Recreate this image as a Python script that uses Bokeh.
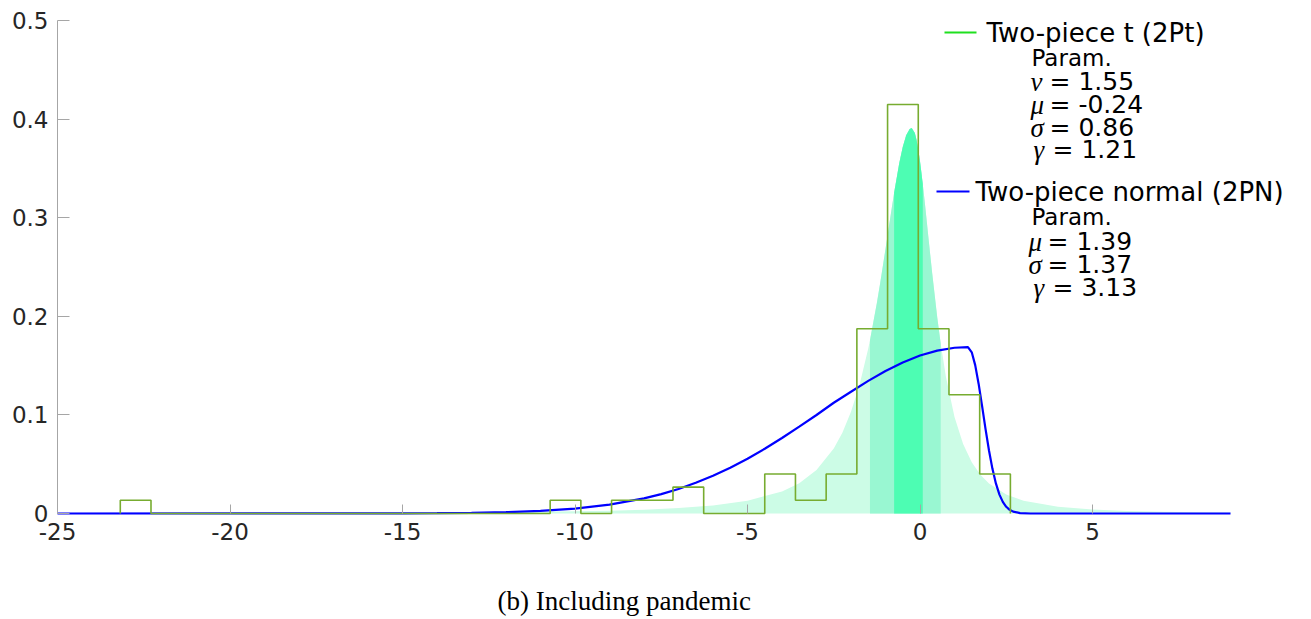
import numpy as np
from bokeh.plotting import figure
from bokeh.models import Range1d, FixedTicker
from bokeh.core.properties import value
from bokeh.embed import file_html
from bokeh.resources import INLINE

# ---------------- data ----------------
# histogram (density) : bin edges and heights
HIST_EDGES = [-23.18, -22.29, -21.40, -20.51, -19.62, -18.73, -17.84, -16.95, -16.06,
              -15.17, -14.28, -13.39, -12.50, -11.61, -10.72, -9.83, -8.94, -8.05,
              -7.16, -6.27, -5.39, -4.50, -3.61, -2.72, -1.83, -0.94, -0.05, 0.84,
              1.73, 2.62]
HIST_HEIGHTS = [0.0134, 0, 0, 0, 0, 0, 0, 0, 0, 0, 0, 0, 0, 0,
                0.0134, 0, 0.0134, 0.0134, 0.0268, 0, 0, 0.0401, 0.0134, 0.0401,
                0.1873, 0.4148, 0.1873, 0.1204, 0.0401]

# two-piece t (2Pt) density (shaded)
PT_X = [-25, -20, -15, -13, -11, -10, -9, -8, -7, -6, -5, -4, -3.5, -3, -2.5, -2.25,
        -2, -1.75, -1.5, -1.45, -1.25, -1.15, -1.0, -0.9, -0.75, -0.6, -0.5, -0.4,
        -0.3, -0.24, -0.15, -0.1, -0.05, 0, 0.08, 0.15, 0.25, 0.35, 0.5, 0.6, 0.75,
        1.0, 1.25, 1.5, 1.75, 2, 2.5, 3, 4, 5, 6, 7, 8, 9]
PT_Y = [0.0002, 0.0004, 0.0008, 0.0011, 0.0017, 0.0022, 0.0029, 0.0039, 0.0055, 0.0082,
        0.0129, 0.0224, 0.0308, 0.0441, 0.0659, 0.0819, 0.1031, 0.1309, 0.1673, 0.1758,
        0.2134, 0.2345, 0.2682, 0.2913, 0.3254, 0.3556, 0.3718, 0.3835, 0.3899, 0.3910,
        0.3859, 0.3789, 0.3691, 0.3572, 0.3343, 0.3118, 0.2780, 0.2446, 0.1989, 0.1724,
        0.1389, 0.0978, 0.0704, 0.0520, 0.0393, 0.0304, 0.0193, 0.0130, 0.0068, 0.0041,
        0.0026, 0.0018, 0.0013, 0.0010]
PT_BAND_OUTER = [-1.45, 0.6]
PT_BAND_INNER = [-0.75, 0.08]

# two-piece normal (2PN) density (line)
PN_X = [-25, -15, -14, -13, -12, -11, -10, -9, -8, -7.5, -7, -6.5, -6, -5.5, -5, -4.5,
        -4, -3.5, -3, -2.5, -2, -1.5, -1, -0.5, 0, 0.5, 1, 1.39, 1.5, 1.6, 1.7, 1.8,
        1.9, 2.0, 2.1, 2.2, 2.3, 2.4, 2.5, 2.6, 2.7, 2.9, 3.2, 9]
PN_Y = [0, 0.0001, 0.0003, 0.0006, 0.0013, 0.0026, 0.0050, 0.0090, 0.0154, 0.0197,
        0.0249, 0.0311, 0.0382, 0.0465, 0.0556, 0.0657, 0.0766, 0.0881, 0.0999, 0.1123,
        0.1235, 0.1345, 0.1445, 0.1532, 0.1602, 0.1652, 0.1681, 0.1688, 0.1635, 0.1505,
        0.1314, 0.1089, 0.0856, 0.0639, 0.0453, 0.0305, 0.0194, 0.0118, 0.0068, 0.0037,
        0.0019, 0.0004, 0.0, 0.0]

X_TICKS = [-25, -20, -15, -10, -5, 0, 5]
X_TICK_LABELS = ["-25", "-20", "-15", "-10", "-5", "0", "5"]
Y_TICKS = [0, 0.1, 0.2, 0.3, 0.4, 0.5]
Y_TICK_LABELS = ["0", "0.1", "0.2", "0.3", "0.4", "0.5"]

PT_NAME = "Two-piece t (2Pt)"
PN_NAME = "Two-piece normal (2PN)"
PT_SYMS = ["ν", "μ", "σ", "γ"]
PT_VALS = ["1.55", "-0.24", "0.86", "1.21"]
PN_SYMS = ["μ", "σ", "γ"]
PN_VALS = ["1.39", "1.37", "3.13"]
CAPTION = "(b) Including pandemic"

# ---------------- figure ----------------
W, H = 1311, 619
L, R, T, B = 57, 1230, 20, 513          # where x = -25..9 and y = 0..0.5 sit
X0, X1, Y0, Y1 = -25, 9, 0, 0.5
XPX = (X1 - X0) / (R - L)               # data units per pixel
YPX = (Y1 - Y0) / (B - T)

def dx(px):
    return X0 + (px - L) * XPX

def dy(py):
    return Y0 + (B - py) * YPX

# the frame fills the whole page so that the legend, the tick labels and the
# caption (text inside the frame) are not clipped; the axes are pinned at
# x = -25 and y = 0
p = figure(width=W, height=H, output_backend="svg", toolbar_location=None,
           x_range=Range1d(dx(0), dx(W)), y_range=Range1d(dy(H), dy(0)),
           min_border_left=0, min_border_right=0,
           min_border_top=0, min_border_bottom=0)
p.outline_line_color = None
p.grid.visible = False
p.background_fill_color = "white"
p.border_fill_color = "white"

AX = "#a6a6a6"
for ax in (p.xaxis[0], p.yaxis[0]):
    ax.major_tick_out = 0
    ax.minor_tick_out = 0
    ax.minor_tick_in = 0
    ax.major_tick_line_color = AX
    ax.axis_line_color = AX
    ax.major_label_text_font = "DejaVu Sans"
    ax.major_label_text_font_size = "23px"
    ax.major_label_text_color = "#262626"
p.xaxis[0].ticker = FixedTicker(ticks=X_TICKS)
p.yaxis[0].ticker = FixedTicker(ticks=Y_TICKS)
p.xaxis[0].major_label_overrides = dict(zip(X_TICKS, X_TICK_LABELS))
p.yaxis[0].major_label_overrides = dict(zip(Y_TICKS, Y_TICK_LABELS))
p.xaxis[0].major_tick_in = 9
p.yaxis[0].major_tick_in = 12
p.xaxis[0].axis_line_color = None
p.xaxis[0].fixed_location = Y0
p.yaxis[0].fixed_location = X0
p.yaxis[0].bounds = (Y0, Y1)
p.xaxis[0].major_label_standoff = 9
p.yaxis[0].major_label_standoff = 9

# shaded 2Pt density
ptx = np.array(PT_X, dtype=float)
pty = np.array(PT_Y, dtype=float)
p.varea(x=ptx, y1=0, y2=pty, fill_color="#ccfce6")
m1 = (ptx >= PT_BAND_OUTER[0]) & (ptx <= PT_BAND_OUTER[1])
p.varea(x=ptx[m1], y1=0, y2=pty[m1], fill_color="#99f7d2")
m2 = (ptx >= PT_BAND_INNER[0]) & (ptx <= PT_BAND_INNER[1])
p.varea(x=ptx[m2], y1=0, y2=pty[m2], fill_color="#4dfdb3")

# 2PN line
p.line(PN_X, PN_Y, line_color="#0000ff", line_width=2.2)

# histogram outline (stairs)
sx, sy = [HIST_EDGES[0]], [0.0]
for i, h in enumerate(HIST_HEIGHTS):
    sx += [HIST_EDGES[i], HIST_EDGES[i + 1]]
    sy += [h, h]
sx.append(HIST_EDGES[-1])
sy.append(0.0)
p.line(sx, sy, line_color="#77ac30", line_width=1.6)

# ---------------- legend ----------------
SANS = value("DejaVu Sans")
SERIF = value("Liberation Serif")

p.line([dx(944), dx(976)], [dy(32), dy(32)], line_color="#1fe01f", line_width=1.8)
p.line([dx(936), dx(969)], [dy(191), dy(191)], line_color="#0000ff", line_width=2.0)

p.text(x=[dx(986), dx(975)], y=[dy(32), dy(191)], text=[PT_NAME, PN_NAME],
       text_font=SANS, text_font_size="26px", text_color="black",
       text_align="left", text_baseline="middle")
p.text(x=[dx(1031), dx(1031)], y=[dy(57), dy(216)], text=["Param.", "Param."],
       text_font=SANS, text_font_size="23px", text_color="black",
       text_align="left", text_baseline="middle")

pt_rows = [81, 104, 127, 149]
pn_rows = [241, 264, 287]
sym_x, sym_y, sym_t = [], [], []
val_x, val_y, val_t = [], [], []
for s, v, r in zip(PT_SYMS, PT_VALS, pt_rows):
    xo = 1033 if s == "γ" else 1030
    sym_x.append(dx(xo)); sym_y.append(dy(r)); sym_t.append(s)
    val_x.append(dx(xo + 19)); val_y.append(dy(r)); val_t.append("= " + v)
for s, v, r in zip(PN_SYMS, PN_VALS, pn_rows):
    xo = 1033 if s == "γ" else 1028
    sym_x.append(dx(xo)); sym_y.append(dy(r)); sym_t.append(s)
    val_x.append(dx(xo + 19)); val_y.append(dy(r)); val_t.append("= " + v)

p.text(x=val_x, y=val_y, text=val_t, text_font=SANS, text_font_size="25px",
       text_color="black", text_align="left", text_baseline="middle")
p.text(x=sym_x, y=sym_y, text=sym_t, text_font=SERIF, text_font_style="italic",
       text_font_size="27px", text_color="black", text_align="left",
       text_baseline="middle")

# caption
p.text(x=[dx(497)], y=[dy(600)], text=[CAPTION], text_font=SERIF,
       text_font_size="27px", text_color="black", text_align="left",
       text_baseline="middle")

open("out.html", "w").write(file_html(p, INLINE))
